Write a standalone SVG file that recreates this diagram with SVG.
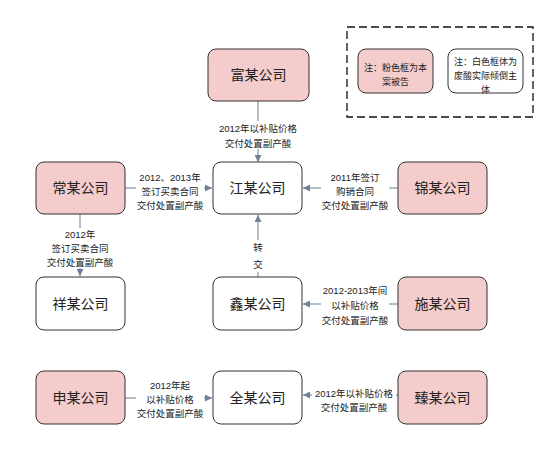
<svg xmlns="http://www.w3.org/2000/svg" width="544" height="463" viewBox="0 0 544 463">
<style>
.node rect{stroke:#333;stroke-width:1;rx:8;ry:8}
.pink rect{fill:#f4cccc}
.white rect{fill:#ffffff}
.node text{font-family:"Liberation Sans","Noto Sans CJK SC",sans-serif;font-size:14px;fill:#222;text-anchor:middle;dominant-baseline:central}
.edge{stroke:#6f7f96;stroke-width:1;fill:none}
.lbl{font-family:"Liberation Sans","Noto Sans CJK SC",sans-serif;font-size:9.5px;fill:#222;text-anchor:middle;dominant-baseline:central}
.bg{fill:#fff}
.node text.note{font-size:9px}
</style>
<defs>
<marker id="arr" viewBox="0 0 10 10" refX="10" refY="5" markerWidth="7" markerHeight="7" orient="auto" markerUnits="userSpaceOnUse">
<path d="M0,0 L10,5 L0,10 Z" fill="#6f7f96"/>
</marker>
</defs>
<rect width="544" height="463" fill="#fff"/>

<g id="connectors">
<line class="edge" x1="258" y1="101" x2="258" y2="162" marker-end="url(#arr)"/>
<line class="edge" x1="125" y1="188" x2="212" y2="188" marker-end="url(#arr)"/>
<line class="edge" x1="398" y1="188" x2="303" y2="188" marker-end="url(#arr)"/>
<line class="edge" x1="80" y1="214" x2="80" y2="276" marker-end="url(#arr)"/>
<line class="edge" x1="258" y1="277" x2="258" y2="215" marker-end="url(#arr)"/>
<line class="edge" x1="398" y1="304" x2="303" y2="304" marker-end="url(#arr)"/>
<line class="edge" x1="125" y1="398" x2="212" y2="398" marker-end="url(#arr)"/>
<line class="edge" x1="398" y1="395" x2="303" y2="395" marker-end="url(#arr)"/>

<rect class="bg" x="215" y="121" width="86" height="28"/>
<text class="lbl" x="258" y="128">2012年以补贴价格</text>
<text class="lbl" x="258" y="143">交付处置副产酸</text>

<rect class="bg" x="136" y="170" width="68" height="40"/>
<text class="lbl" x="170" y="177">2012、2013年</text>
<text class="lbl" x="170" y="191">签订买卖合同</text>
<text class="lbl" x="170" y="205">交付处置副产酸</text>

<rect class="bg" x="321" y="170" width="68" height="40"/>
<text class="lbl" x="355" y="177">2011年签订</text>
<text class="lbl" x="355" y="191">购销合同</text>
<text class="lbl" x="355" y="205">交付处置副产酸</text>

<rect class="bg" x="46" y="228" width="68" height="40"/>
<text class="lbl" x="80" y="234">2012年</text>
<text class="lbl" x="80" y="248">签订买卖合同</text>
<text class="lbl" x="80" y="262">交付处置副产酸</text>

<rect class="bg" x="250" y="240" width="16" height="32"/>
<text class="lbl" x="258" y="247">转</text>
<text class="lbl" x="258" y="264">交</text>

<rect class="bg" x="321" y="283" width="68" height="42"/>
<text class="lbl" x="355" y="290">2012-2013年间</text>
<text class="lbl" x="355" y="305">以补贴价格</text>
<text class="lbl" x="355" y="320">交付处置副产酸</text>

<rect class="bg" x="136" y="378" width="68" height="40"/>
<text class="lbl" x="170" y="385">2012年起</text>
<text class="lbl" x="170" y="399">以补贴价格</text>
<text class="lbl" x="170" y="413">交付处置副产酸</text>

<rect class="bg" x="312" y="386" width="84" height="28"/>
<text class="lbl" x="354" y="393">2012年以补贴价格</text>
<text class="lbl" x="354" y="407">交付处置副产酸</text>
</g>

<g id="fu" class="node pink"><rect x="208" y="49" width="101" height="52"/><text x="258.5" y="75">富某公司</text></g>
<g id="jiang" class="node white"><rect x="213" y="162" width="89" height="52"/><text x="257.5" y="188">江某公司</text></g>
<g id="chang" class="node pink"><rect x="36" y="162" width="89" height="52"/><text x="80.5" y="188">常某公司</text></g>
<g id="jin" class="node pink"><rect x="398" y="162" width="89" height="52"/><text x="442.5" y="188">锦某公司</text></g>
<g id="xiang" class="node white"><rect x="36" y="277" width="89" height="53"/><text x="80.5" y="304">祥某公司</text></g>
<g id="xin" class="node white"><rect x="213" y="277" width="89" height="53"/><text x="257.5" y="304">鑫某公司</text></g>
<g id="shi" class="node pink"><rect x="398" y="277" width="89" height="53"/><text x="442.5" y="304">施某公司</text></g>
<g id="shen" class="node pink"><rect x="36" y="371" width="89" height="53"/><text x="80.5" y="398">申某公司</text></g>
<g id="quan" class="node white"><rect x="213" y="371" width="89" height="53"/><text x="257.5" y="398">全某公司</text></g>
<g id="zhen" class="node pink"><rect x="398" y="371" width="89" height="53"/><text x="442.5" y="398">臻某公司</text></g>

<g id="legend">
<rect x="347" y="27" width="186" height="90" fill="none" stroke="#111" stroke-width="1.3" stroke-dasharray="8,4"/>
<g id="legend-pink" class="node pink"><rect x="358" y="49" width="75" height="44"/>
<text class="note" x="395.5" y="68">注：粉色框为本</text>
<text class="note" x="395.5" y="82">案被告</text></g>
<g id="legend-white" class="node white"><rect x="448" y="49" width="75" height="44"/>
<text class="note" x="485.5" y="62">注：白色框体为</text>
<text class="note" x="485.5" y="76">废酸实际倾倒主</text>
<text class="note" x="485.5" y="90">体</text></g>
</g>
</svg>
